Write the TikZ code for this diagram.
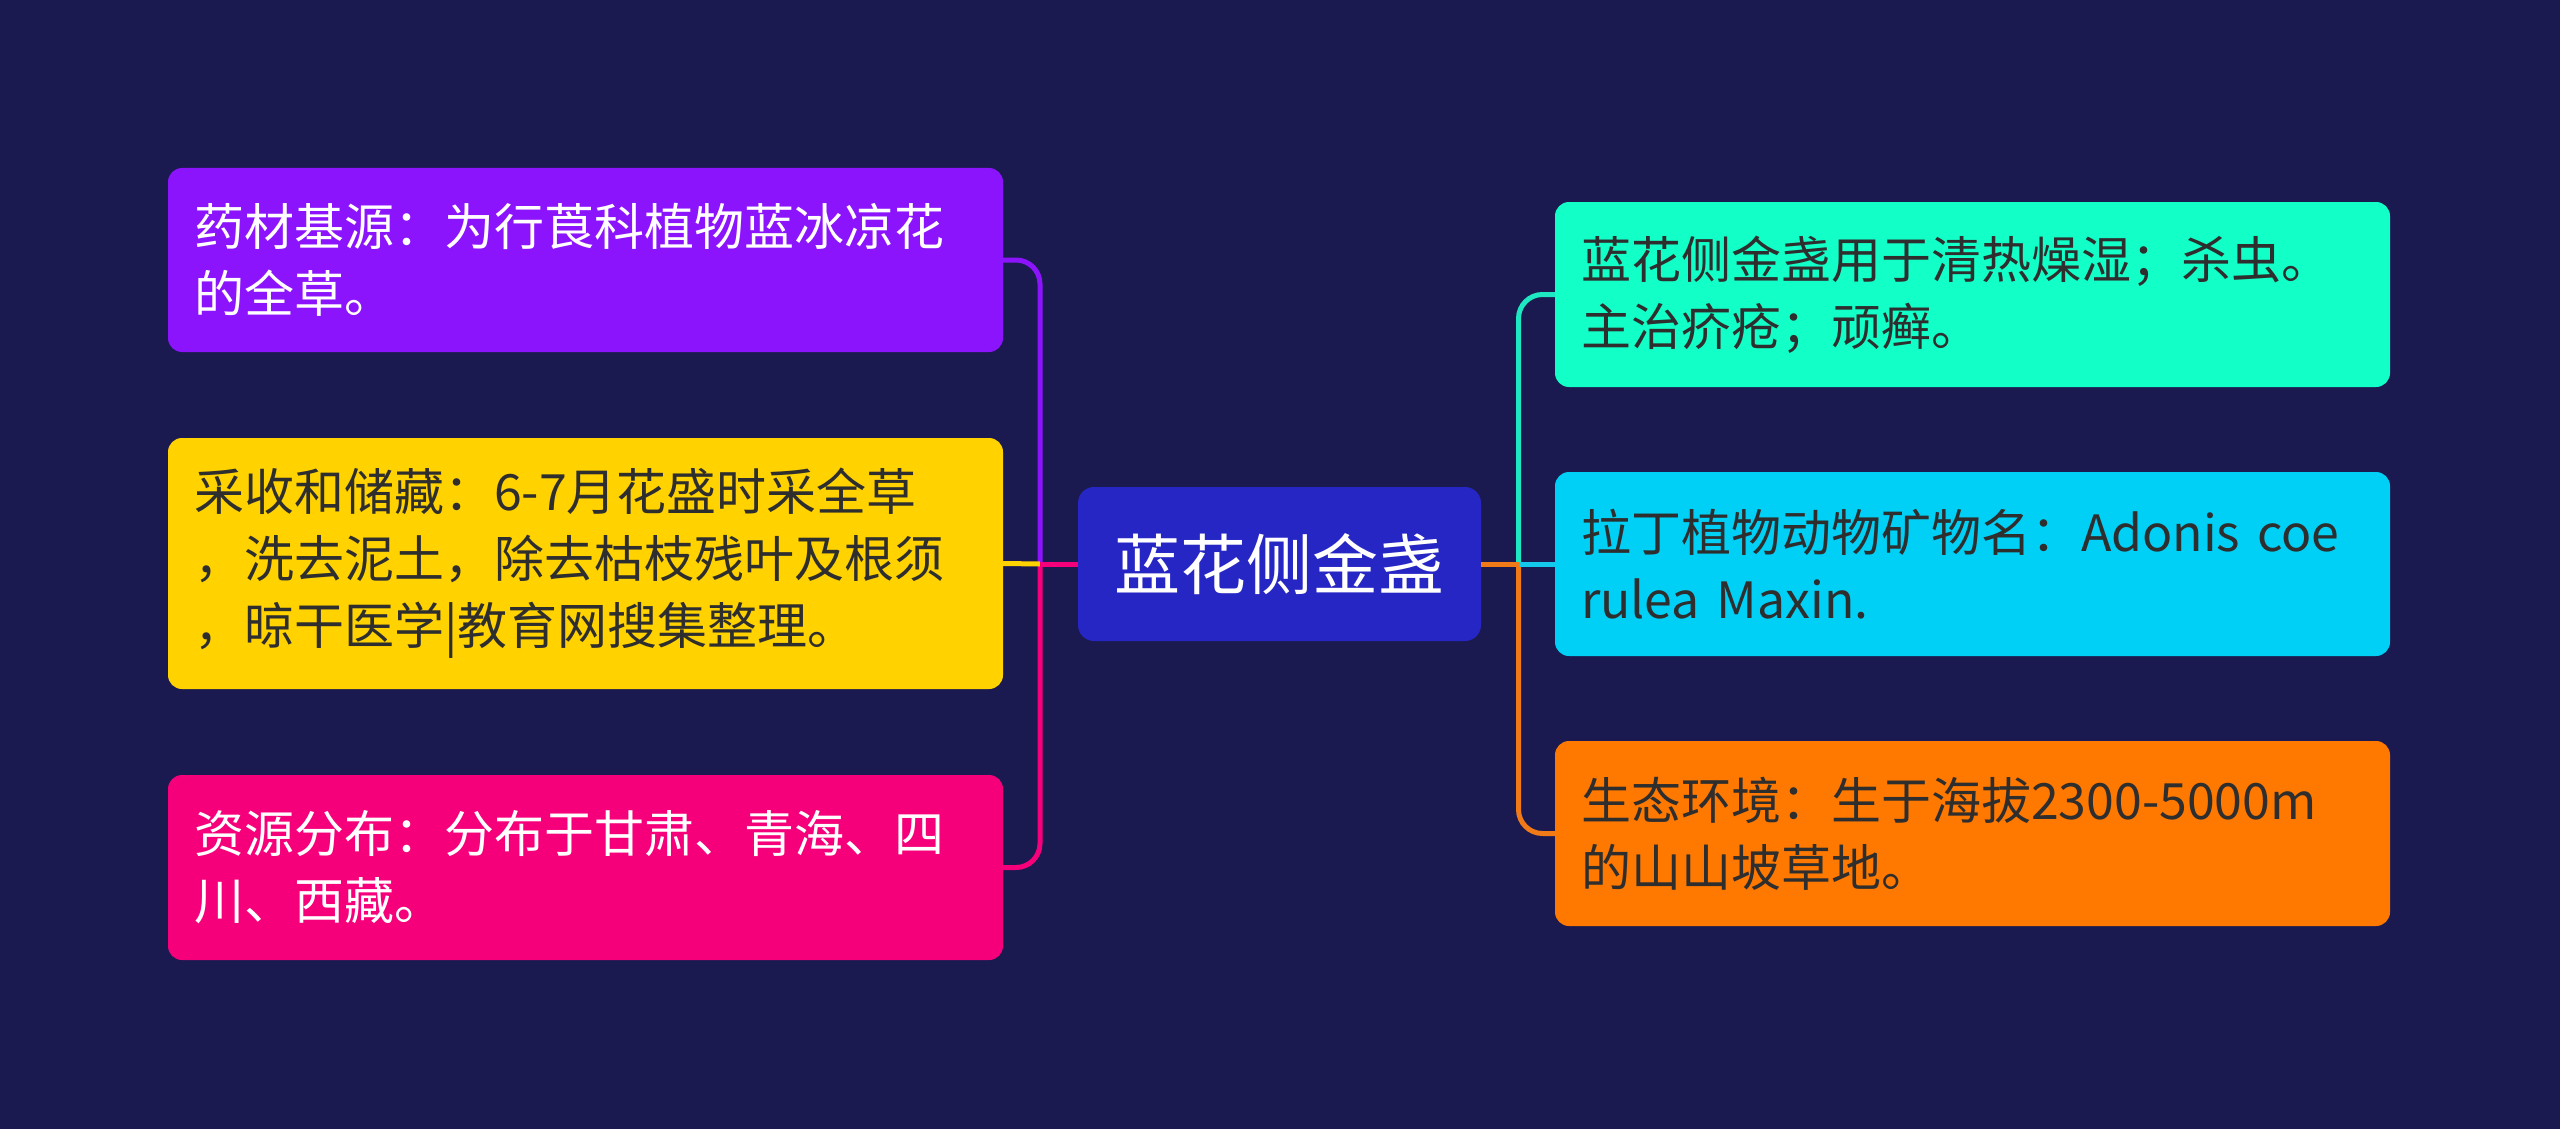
\documentclass[tikz,border=0pt]{standalone}
\usepackage{fontspec}
\setmainfont{Noto Sans CJK SC}
\definecolor{bgc}{HTML}{1A1A50}
\definecolor{cpurple}{HTML}{8C14FC}
\definecolor{cyellow}{HTML}{FFD200}
\definecolor{cpink}{HTML}{F5007A}
\definecolor{ccenter}{HTML}{2626C4}
\definecolor{cteal}{HTML}{12FFC8}
\definecolor{cteall}{HTML}{1EE8C2}
\definecolor{ccyan}{HTML}{00D0F5}
\definecolor{ccyanl}{HTML}{14C8EC}
\definecolor{corange}{HTML}{FF7800}
\definecolor{corangel}{HTML}{F07A18}
\definecolor{dtext}{HTML}{2E2E2E}
\begin{document}
\begin{tikzpicture}[x=1pt,y=-1pt,
  box/.style={rounded corners=14pt, inner xsep=26pt, inner ysep=0pt, align=left,
    font=\fontsize{50}{67}\selectfont, text width=783pt, minimum width=835pt},
  hub/.style={rounded corners=16pt, inner sep=0pt, align=center,
    font=\fontsize{66}{80}\selectfont, minimum width=403pt, minimum height=154pt},
  ln/.style={line width=5pt, rounded corners=24pt}]
\fill[bgc] (0,0) rectangle (2560,1129);
% nodes
\node[hub, fill=ccenter, text=white] (c) at (1279.5,564) {蓝花侧金盏};
\node[box, fill=cpurple, text=white, minimum height=184pt] (l1) at (585.5,260)
  {药材基源：为行莨科植物蓝冰凉花\\的全草。};
\node[box, fill=cyellow, text=dtext, minimum height=251pt] (l2) at (585.5,563.5)
  {采收和储藏：6-7月花盛时采全草\\，洗去泥土，除去枯枝残叶及根须\\，晾干医学|教育网搜集整理。};
\node[box, fill=cpink, text=white, minimum height=185pt] (l3) at (585.5,867.5)
  {资源分布：分布于甘肃、青海、四\\川、西藏。};
\node[box, fill=cteal, text=dtext, minimum height=185pt] (r1) at (1972.5,294.5)
  {蓝花侧金盏用于清热燥湿；杀虫。\\主治疥疮；顽癣。};
\node[box, fill=ccyan, text=dtext, minimum height=184pt] (r2) at (1972.5,564)
  {拉丁植物动物矿物名：Adonis coe\\rulea Maxin.};
\node[box, fill=corange, text=dtext, minimum height=185pt] (r3) at (1972.5,833.5)
  {生态环境：生于海拔2300-5000m\\的山山坡草地。};
% trunks
\coordinate (lt) at (1040,564);
\coordinate (rt) at (1518.5,564);
% connectors left
\draw[ln, cpurple] (l1.east) -| (lt);
\draw[ln, cpink] (l3.east) -| (lt);
\draw[ln, cyellow] (l2.east) -- (lt);
\draw[ln, cpink] (c.west) -- (lt);
% connectors right
\draw[ln, cteall] (r1.west) -| (rt);
\draw[ln, corangel] (r3.west) -| (rt);
\draw[ln, ccyanl] (r2.west) -- (rt);
\draw[ln, corangel] (c.east) -- (rt);
\end{tikzpicture}
\end{document}
